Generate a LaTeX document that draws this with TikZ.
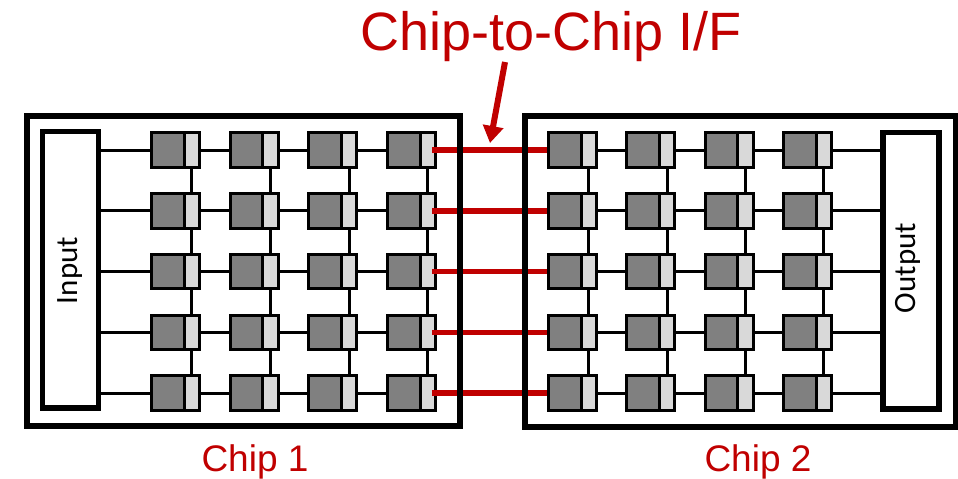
\documentclass[tikz,border=0pt]{standalone}
\usepackage{fontspec}
\setmainfont{Liberation Sans}
\newfontfamily\calib{Carlito}
\usetikzlibrary{arrows.meta}
\definecolor{cred}{HTML}{C00000}
\definecolor{dgray}{HTML}{808080}
\definecolor{lgray}{HTML}{D9D9D9}
\begin{document}
\begin{tikzpicture}[x=1pt,y=-1pt,
  darkpart/.style={draw=black,fill=dgray,line width=3pt,minimum width=32.5pt,minimum height=34.5pt,inner sep=0pt,outer sep=0pt},
  lightpart/.style={draw=black,fill=lgray,line width=3pt,minimum width=15.5pt,minimum height=34.5pt,inner sep=0pt,outer sep=0pt},
  wire/.style={line width=3pt},
  link/.style={draw=cred,line width=5.5pt},
  chipbox/.style={line width=6pt},
  iobox/.style={draw,line width=5.5pt,inner sep=0pt,outer sep=0pt,minimum width=56pt,minimum height=276.5pt},
  redlabel/.style={text=cred,anchor=base,inner sep=0pt},
  iolabel/.style={font=\calib\fontsize{31}{36}\selectfont,rotate=90,anchor=base,inner sep=0pt}]
\useasboundingbox (0,0) rectangle (958,479);
% I/O boxes
\node[iobox] (input) at (70.5,269.75) {};
\node[iobox] (output) at (911,270.75) {};
% blocks
\foreach \c/\xo/\dx in {1/150/78.667,2/547/78.333}{
  \foreach \r in {1,...,5}{
    \foreach \i in {1,...,4}{
      \pgfmathsetmacro\bx{\xo+(\i-1)*\dx}
      \pgfmathsetmacro\by{150+(\r-1)*60.75}
      \node[darkpart] (d-\c-\r-\i) at (\bx+17.75,\by) {};
      \node[lightpart] (l-\c-\r-\i) at (\bx+41.75,\by) {};
    }
  }
}
% wires
\foreach \c in {1,2}{
  \foreach \r in {1,...,5}{
    \foreach \i/\j in {1/2,2/3,3/4}{
      \draw[wire] (l-\c-\r-\i.east) -- (d-\c-\r-\j.west);
    }
  }
  \foreach \r/\s in {1/2,2/3,3/4,4/5}{
    \foreach \i in {1,...,4}{
      \draw[wire] (l-\c-\r-\i.south) -- (l-\c-\s-\i.north);
    }
  }
}
\foreach \r in {1,...,5}{
  \draw[wire] (input.east |- d-1-\r-1.west) -- (d-1-\r-1.west);
  \draw[wire] (l-2-\r-4.east) -- (output.west |- l-2-\r-4.east);
  \draw[link] ([xshift=4pt]l-1-\r-4.center) -- ([xshift=-1.5pt]d-2-\r-1.west);
}
% chip borders
\draw[chipbox] (27,116) rectangle (459.5,426);
\draw[chipbox] (524.5,116) rectangle (955.5,426.5);
% arrow
\coordinate (arrtail) at (505,62);
\coordinate (arrtip) at (490,143);
\draw[cred,line width=6pt,-{Triangle[width=20pt,length=17pt]}] (arrtail) -- (arrtip);
% labels
\node[redlabel,font=\fontsize{54}{60}\selectfont] (title) at (551,50) {Chip-to-Chip I/F};
\node[redlabel,font=\fontsize{37}{44}\selectfont] (chip1lbl) at (255,471) {Chip 1};
\node[redlabel,font=\fontsize{37}{44}\selectfont] (chip2lbl) at (758,471) {Chip 2};
\node[iolabel] (inputlbl) at (77,270.5) {Input};
\node[iolabel] (outputlbl) at (915,268) {Output};
\end{tikzpicture}
\end{document}
